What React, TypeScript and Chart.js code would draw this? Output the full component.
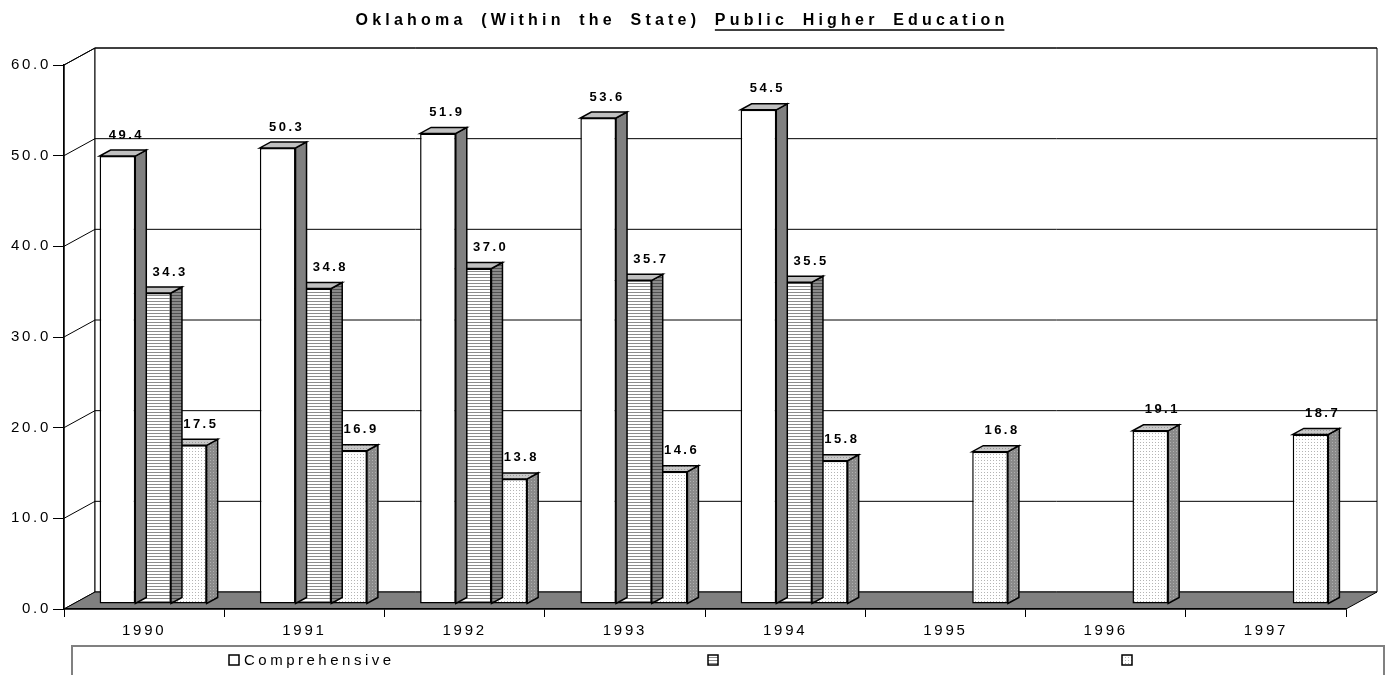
import React, { useEffect, useRef } from "react";
import { Chart, registerables } from "chart.js";

Chart.register(...registerables);

// ---------- data ----------
const categories = ["1990", "1991", "1992", "1993", "1994", "1995", "1996", "1997"];
const seriesNames = ["Comprehensive", "", ""];
const comprehensive = [49.4, 50.3, 51.9, 53.6, 54.5, null, null, null];
const series2 = [34.3, 34.8, 37.0, 35.7, 35.5, null, null, null];
const series3 = [17.5, 16.9, 13.8, 14.6, 15.8, 16.8, 19.1, 18.7];
const yTicks = [0, 10, 20, 30, 40, 50, 60];
const titleMain = "Oklahoma (Within the State) ";
const titleUnderlined = "Public Higher Education";

// ---------- style ----------
const FONT = '"Liberation Sans", Arial, Helvetica, sans-serif';
const DEPTH = { dx: 31, dy: -17 };
const BAR_SHIFT = { dx: 9, dy: -5 };
const BAR_DEPTH = { dx: 11, dy: -6 };
const LABEL_DX = [9, 17, 12];
const LABEL_DY = -21;

function makePattern(bg: string, fg: string, kind: "h" | "dot" | "none", size = 3) {
  const c = document.createElement("canvas");
  c.width = size;
  c.height = size;
  const g = c.getContext("2d")!;
  g.fillStyle = bg;
  g.fillRect(0, 0, size, size);
  g.fillStyle = fg;
  if (kind === "h") g.fillRect(0, 0, size, 1);
  if (kind === "dot") g.fillRect(0, 0, 1, 1);
  return g.createPattern(c, "repeat")!;
}

function poly(ctx: CanvasRenderingContext2D, pts: number[][], fill: boolean, stroke: boolean) {
  ctx.beginPath();
  ctx.moveTo(pts[0][0], pts[0][1]);
  for (let i = 1; i < pts.length; i++) ctx.lineTo(pts[i][0], pts[i][1]);
  ctx.closePath();
  if (fill) ctx.fill();
  if (stroke) ctx.stroke();
}

export default function App() {
  const ref = useRef<HTMLCanvasElement>(null);

  useEffect(() => {
    const canvas = ref.current!;
    const frontFills: any[] = [
      "#ffffff",
      makePattern("#ffffff", "#8c8c8c", "h"),
      makePattern("#ffffff", "#b4b4b4", "dot"),
    ];
    const sideFills: any[] = [
      "#808080",
      makePattern("#8a8a8a", "#505050", "h"),
      makePattern("#8a8a8a", "#b0b0b0", "dot"),
    ];
    const topFills: any[] = [
      "#c0c0c0",
      "#c0c0c0",
      makePattern("#c8c8c8", "#999999", "dot"),
    ];
    const legendFills = frontFills;

    const threeD = {
      id: "threeD",
      beforeDraw(chart: any) {
        const { ctx, chartArea: a, scales } = chart;
        const y = scales.y;
        const { dx, dy } = DEPTH;
        ctx.save();
        ctx.lineWidth = 1;
        ctx.strokeStyle = "#000";
        ctx.fillStyle = "#fff";
        // left side wall
        poly(ctx, [[a.left, a.top], [a.left + dx, a.top + dy], [a.left + dx, a.bottom + dy], [a.left, a.bottom]], true, true);
        // back wall
        poly(ctx, [[a.left + dx, a.top + dy], [a.right + dx, a.top + dy], [a.right + dx, a.bottom + dy], [a.left + dx, a.bottom + dy]], true, true);
        // grid lines on the walls
        yTicks.forEach((v) => {
          if (v === 0) return;
          const py = y.getPixelForValue(v);
          ctx.beginPath();
          ctx.moveTo(a.left, py);
          ctx.lineTo(a.left + dx, py + dy);
          ctx.lineTo(a.right + dx, py + dy);
          ctx.stroke();
        });
        // floor
        ctx.fillStyle = "#808080";
        poly(ctx, [[a.left, a.bottom], [a.right, a.bottom], [a.right + dx, a.bottom + dy], [a.left + dx, a.bottom + dy]], true, true);
        ctx.restore();
        (ctx as any).letterSpacing = "2.7px";
      },
      beforeDatasetDraw(chart: any, args: any) {
        const { ctx } = chart;
        const i = args.index;
        const meta = args.meta;
        const ds = chart.data.datasets[i];
        ctx.save();
        ctx.translate(BAR_SHIFT.dx, BAR_SHIFT.dy);
        ctx.strokeStyle = "#000";
        ctx.lineWidth = 1.5;
        ctx.lineJoin = "miter";
        meta.data.forEach((el: any, j: number) => {
          const v = ds.data[j];
          if (v == null) return;
          const { x, y, base, width } = el.getProps(["x", "y", "base", "width"], true);
          const l = x - width / 2;
          const r = x + width / 2;
          const { dx, dy } = BAR_DEPTH;
          ctx.fillStyle = sideFills[i];
          poly(ctx, [[r, y], [r + dx, y + dy], [r + dx, base + dy], [r, base]], true, true);
          ctx.fillStyle = topFills[i];
          poly(ctx, [[l, y], [r, y], [r + dx, y + dy], [l + dx, y + dy]], true, true);
        });
        ctx.restore();
        ctx.save();
        ctx.translate(BAR_SHIFT.dx, BAR_SHIFT.dy);
      },
      afterDatasetDraw(chart: any) {
        chart.ctx.restore();
      },
      afterDatasetsDraw(chart: any) {
        const { ctx } = chart;
        ctx.save();
        ctx.font = `bold 13px ${FONT}`;
        (ctx as any).letterSpacing = "2.5px";
        ctx.textAlign = "center";
        ctx.textBaseline = "middle";
        ctx.fillStyle = "#000";
        chart.data.datasets.forEach((ds: any, i: number) => {
          const meta = chart.getDatasetMeta(i);
          meta.data.forEach((el: any, j: number) => {
            const v = ds.data[j];
            if (v == null) return;
            ctx.fillText(
              Number(v).toFixed(1),
              el.x + BAR_SHIFT.dx + LABEL_DX[i],
              el.y + BAR_SHIFT.dy + LABEL_DY
            );
          });
        });
        ctx.restore();
      },
      afterDraw(chart: any) {
        const { ctx } = chart;
        ctx.save();
        // title
        ctx.font = `bold 16px ${FONT}`;
        (ctx as any).letterSpacing = "4.2px";
        (ctx as any).wordSpacing = "6px";
        ctx.textAlign = "left";
        ctx.textBaseline = "middle";
        ctx.fillStyle = "#000";
        const w1 = ctx.measureText(titleMain).width;
        const w2 = ctx.measureText(titleUnderlined).width;
        const x0 = 682 - (w1 + w2) / 2;
        ctx.fillText(titleMain, x0, 21);
        ctx.fillText(titleUnderlined, x0 + w1, 21);
        ctx.strokeStyle = "#000";
        ctx.lineWidth = 1.5;
        ctx.beginPath();
        ctx.moveTo(x0 + w1, 30);
        ctx.lineTo(x0 + w1 + w2 - 4, 30);
        ctx.stroke();
        (ctx as any).wordSpacing = "0px";

        // legend
        ctx.strokeStyle = "#808080";
        ctx.lineWidth = 2;
        ctx.strokeRect(72, 646, 1312, 60);
        const markerX = [229, 708, 1122];
        ctx.font = `15px ${FONT}`;
        (ctx as any).letterSpacing = "3.5px";
        seriesNames.forEach((name, i) => {
          ctx.fillStyle = legendFills[i];
          ctx.fillRect(markerX[i], 655, 10, 10);
          ctx.strokeStyle = "#000";
          ctx.lineWidth = 1.5;
          ctx.strokeRect(markerX[i], 655, 10, 10);
          if (name) {
            ctx.fillStyle = "#000";
            ctx.fillText(name, markerX[i] + 15, 661);
          }
        });
        ctx.restore();
        (ctx as any).letterSpacing = "0px";
      },
    };

    const chart = new Chart(canvas, {
      type: "bar",
      data: {
        labels: categories,
        datasets: [comprehensive, series2, series3].map((d, i) => ({
          label: seriesNames[i],
          data: d as any,
          backgroundColor: frontFills[i],
          borderColor: "#000",
          borderWidth: 1.5,
          borderSkipped: false,
          categoryPercentage: 0.668,
          barPercentage: 1,
          clip: false as any,
        })),
      },
      options: {
        responsive: false,
        animation: false,
        devicePixelRatio: 1,
        layout: { padding: { left: 0, top: 65, right: 45, bottom: 0 } },
        plugins: {
          legend: { display: false },
          title: { display: false },
          tooltip: { enabled: false },
        },
        scales: {
          x: {
            offset: true,
            grid: {
              offset: true,
              drawOnChartArea: false,
              drawTicks: true,
              tickLength: 8,
              color: "#000",
              lineWidth: 1,
            },
            border: { display: true, color: "#000", width: 1.5 },
            ticks: {
              color: "#000",
              font: { family: FONT, size: 15 },
              padding: 5,
              maxRotation: 0,
              autoSkip: false,
            },
            afterFit(scale: any) {
              scale.height = 66;
            },
          },
          y: {
            min: 0,
            max: 60,
            grid: {
              drawOnChartArea: false,
              drawTicks: true,
              tickLength: 11,
              color: "#000",
              lineWidth: 1,
            },
            border: { display: true, color: "#000", width: 1.5 },
            ticks: {
              stepSize: 10,
              color: "#000",
              font: { family: FONT, size: 15 },
              padding: 2,
              callback: (v: any) => Number(v).toFixed(1),
            },
            afterFit(scale: any) {
              scale.width = 64;
            },
          },
        },
      },
      plugins: [threeD],
    } as any);

    return () => chart.destroy();
  }, []);

  return (
    <div style={{ position: "absolute", left: 0, top: 0, width: 1391, height: 675, background: "#fff" }}>
      <canvas ref={ref} width={1391} height={675} style={{ display: "block" }} />
    </div>
  );
}
